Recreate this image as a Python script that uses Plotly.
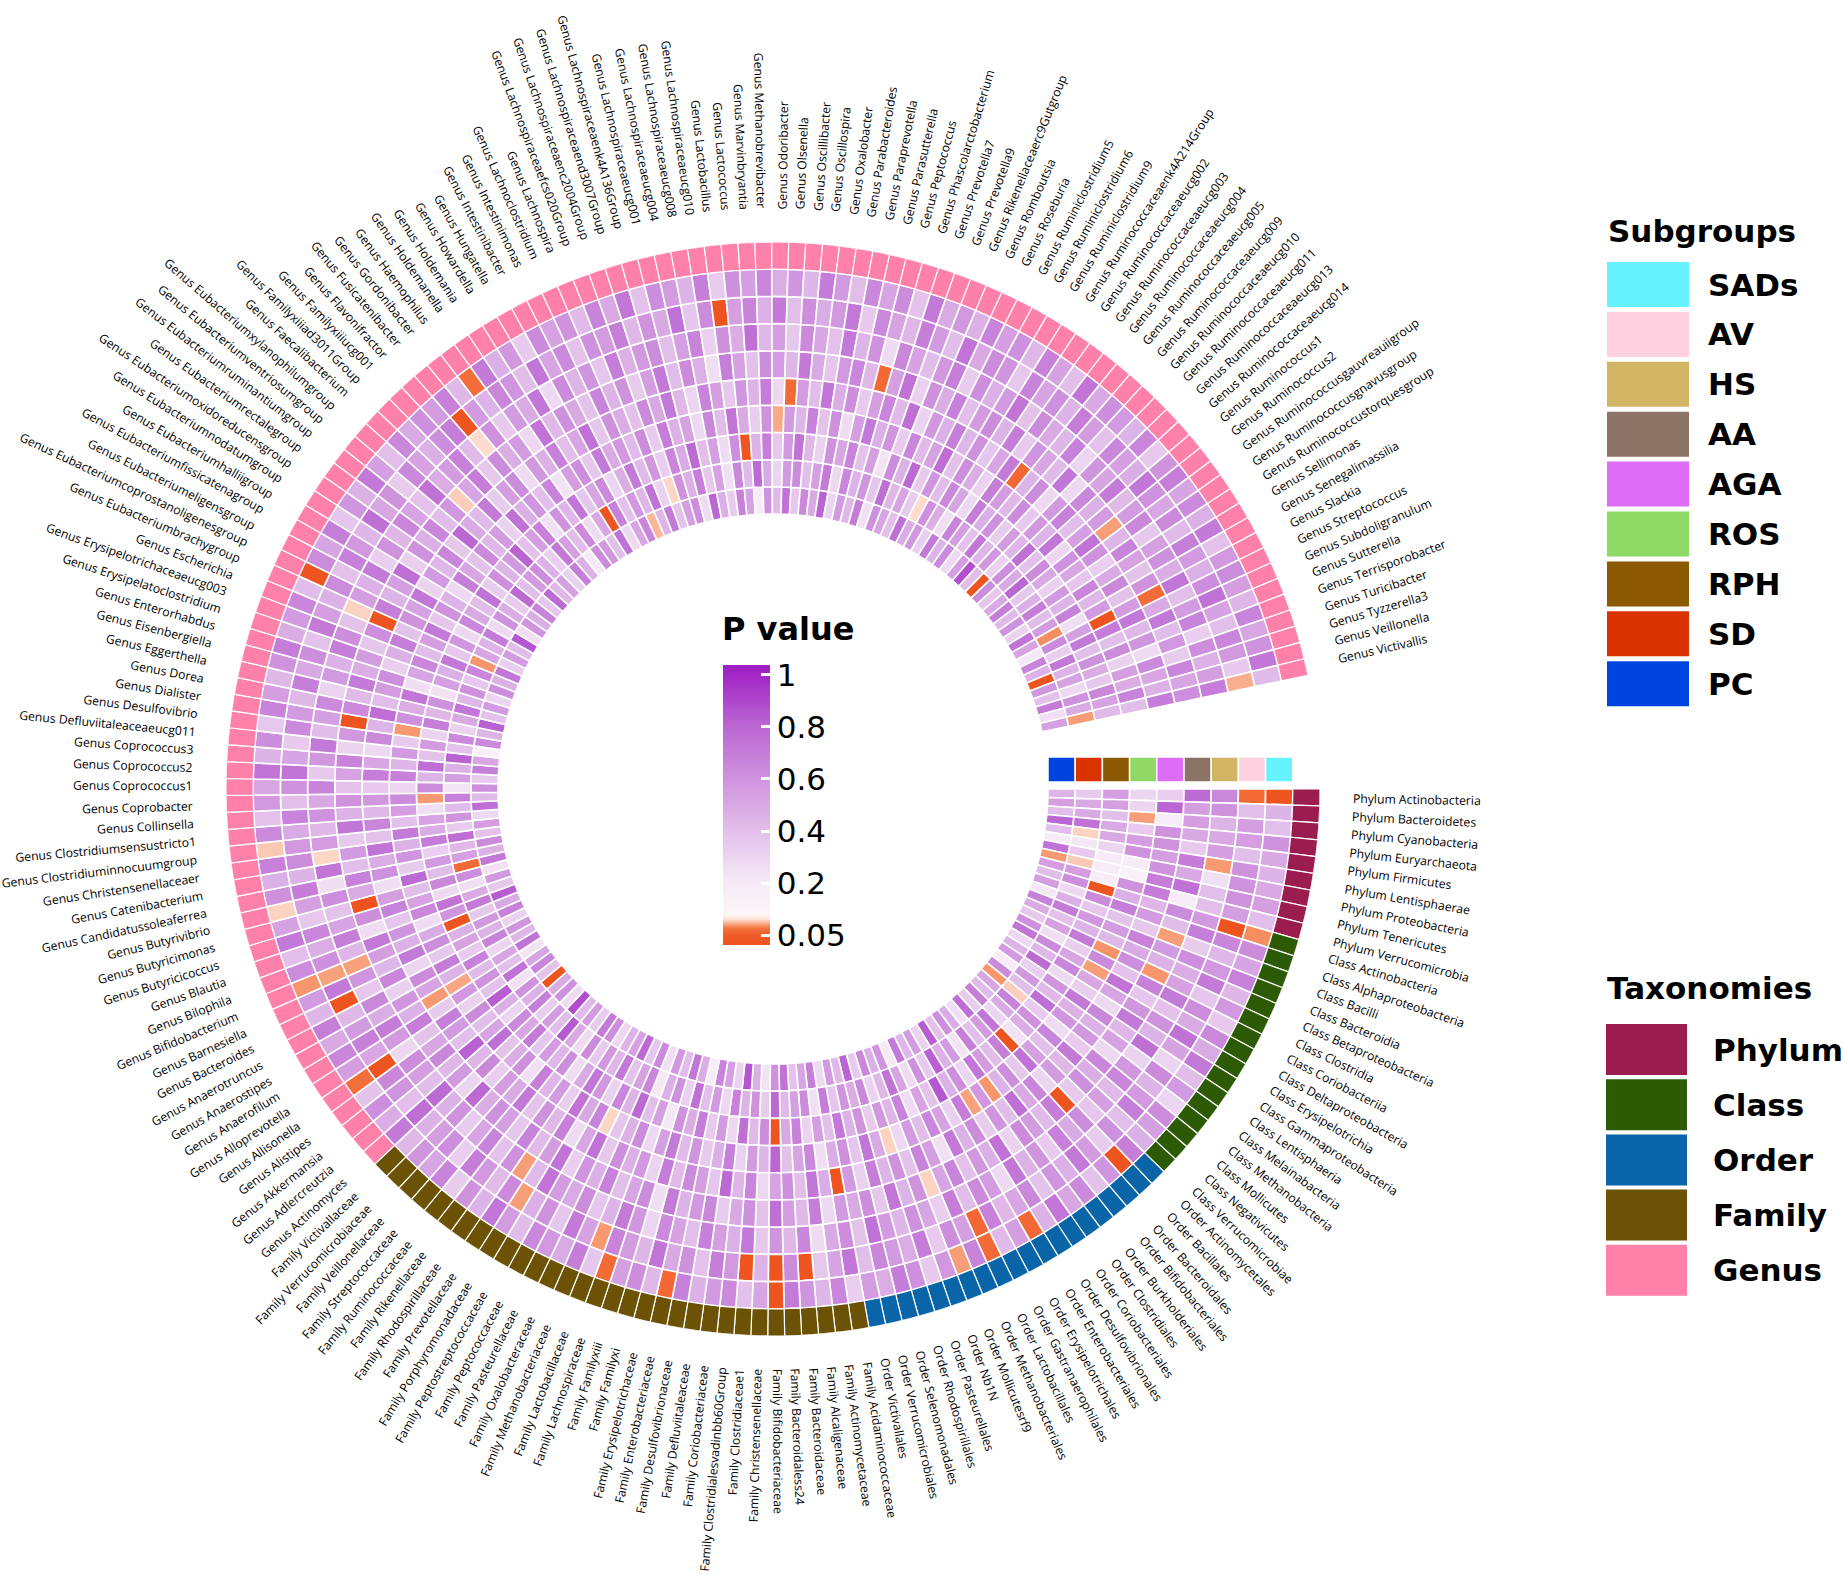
import numpy as np
import plotly.graph_objects as go

W, H = 1843, 1581

# ---- categories (clockwise, starting at 3 o'clock) ----
PHYLUM = ['Actinobacteria', 'Bacteroidetes', 'Cyanobacteria', 'Euryarchaeota', 'Firmicutes',
          'Lentisphaerae', 'Proteobacteria', 'Tenericutes', 'Verrucomicrobia']
CLASS = ['Actinobacteria', 'Alphaproteobacteria', 'Bacilli', 'Bacteroidia', 'Betaproteobacteria',
         'Clostridia', 'Coriobacteriia', 'Deltaproteobacteria', 'Erysipelotrichia',
         'Gammaproteobacteria', 'Lentisphaeria', 'Melainabacteria', 'Methanobacteria',
         'Mollicutes', 'Negativicutes', 'Verrucomicrobiae']
ORDER = ['Actinomycetales', 'Bacillales', 'Bacteroidales', 'Bifidobacteriales', 'Burkholderiales',
         'Clostridiales', 'Coriobacteriales', 'Desulfovibrionales', 'Enterobacteriales',
         'Erysipelotrichales', 'Gastranaerophilales', 'Lactobacillales', 'Methanobacteriales',
         'Mollicutesrf9', 'Nb1N', 'Pasteurellales', 'Rhodospirillales', 'Selenomonadales',
         'Verrucomicrobiales', 'Victivallales']
FAMILY = ['Acidaminococcaceae', 'Actinomycetaceae', 'Alcaligenaceae', 'Bacteroidaceae',
          'Bacteroidaless24', 'Bifidobacteriaceae', 'Christensenellaceae', 'Clostridiaceae1',
          'Clostridialesvadinbb60Group', 'Coriobacteriaceae', 'Defluviitaleaceae',
          'Desulfovibrionaceae', 'Enterobacteriaceae', 'Erysipelotrichaceae', 'Familyxi',
          'Familyxiii', 'Lachnospiraceae', 'Lactobacillaceae', 'Methanobacteriaceae',
          'Oxalobacteraceae', 'Pasteurellaceae', 'Peptococcaceae', 'Peptostreptococcaceae',
          'Porphyromonadaceae', 'Prevotellaceae', 'Rhodospirillaceae', 'Rikenellaceae',
          'Ruminococcaceae', 'Streptococcaceae', 'Veillonellaceae', 'Verrucomicrobiaceae',
          'Victivallaceae']
GENUS = ['Actinomyces', 'Adlercreutzia', 'Akkermansia', 'Alistipes', 'Allisonella',
         'Alloprevotella', 'Anaerofilum', 'Anaerostipes', 'Anaerotruncus', 'Bacteroides',
         'Barnesiella', 'Bifidobacterium', 'Bilophila', 'Blautia', 'Butyricicoccus',
         'Butyricimonas', 'Butyrivibrio', 'Candidatussoleaferrea', 'Catenibacterium',
         'Christensenellaceaer', 'Clostridiuminnocuumgroup', 'Clostridiumsensustricto1',
         'Collinsella', 'Coprobacter', 'Coprococcus1', 'Coprococcus2', 'Coprococcus3',
         'Defluviitaleaceaeucg011', 'Desulfovibrio', 'Dialister', 'Dorea', 'Eggerthella',
         'Eisenbergiella', 'Enterorhabdus', 'Erysipelatoclostridium', 'Erysipelotrichaceaeucg003',
         'Escherichia', 'Eubacteriumbrachygroup', 'Eubacteriumcoprostanoligenesgroup',
         'Eubacteriumeligensgroup', 'Eubacteriumfissicatenagroup', 'Eubacteriumhalliigroup',
         'Eubacteriumnodatumgroup', 'Eubacteriumoxidoreducensgroup', 'Eubacteriumrectalegroup',
         'Eubacteriumruminantiumgroup', 'Eubacteriumventriosumgroup',
         'Eubacteriumxylanophilumgroup', 'Faecalibacterium', 'Familyxiiiad3011Group',
         'Familyxiiiucg001', 'Flavonifractor', 'Fusicatenibacter', 'Gordonibacter',
         'Haemophilus', 'Holdemanella', 'Holdemania', 'Howardella', 'Hungatella',
         'Intestinibacter', 'Intestinimonas', 'Lachnoclostridium', 'Lachnospira',
         'Lachnospiraceaefcs020Group', 'Lachnospiraceaenc2004Group', 'Lachnospiraceaend3007Group',
         'Lachnospiraceaenk4A136Group', 'Lachnospiraceaeucg001', 'Lachnospiraceaeucg004',
         'Lachnospiraceaeucg008', 'Lachnospiraceaeucg010', 'Lactobacillus', 'Lactococcus',
         'Marvinbryantia', 'Methanobrevibacter', 'Odoribacter', 'Olsenella', 'Oscillibacter',
         'Oscillospira', 'Oxalobacter', 'Parabacteroides', 'Paraprevotella', 'Parasutterella',
         'Peptococcus', 'Phascolarctobacterium', 'Prevotella7', 'Prevotella9',
         'Rikenellaceaerc9Gutgroup', 'Romboutsia', 'Roseburia', 'Ruminiclostridium5',
         'Ruminiclostridium6', 'Ruminiclostridium9', 'Ruminococcaceaenk4A214Group',
         'Ruminococcaceaeucg002', 'Ruminococcaceaeucg003', 'Ruminococcaceaeucg004',
         'Ruminococcaceaeucg005', 'Ruminococcaceaeucg009', 'Ruminococcaceaeucg010',
         'Ruminococcaceaeucg011', 'Ruminococcaceaeucg013', 'Ruminococcaceaeucg014',
         'Ruminococcus1', 'Ruminococcus2', 'Ruminococcusgauvreauiigroup',
         'Ruminococcusgnavusgroup', 'Ruminococcustorquesgroup', 'Sellimonas', 'Senegalimassilia',
         'Slackia', 'Streptococcus', 'Subdoligranulum', 'Sutterella', 'Terrisporobacter',
         'Turicibacter', 'Tyzzerella3', 'Veillonella', 'Victivallis']

# tracks from inner to outer
SUBGROUPS = ['PC', 'SD', 'RPH', 'ROS', 'AGA', 'AA', 'HS', 'AV', 'SADs']
SUBGROUP_COLORS = ['#0044e0', '#d93300', '#8b5a00', '#8fd966', '#dd6cf7',
                   '#8b7366', '#d1b565', '#ffd1e0', '#66f2ff']
TAXA = ['Phylum', 'Class', 'Order', 'Family', 'Genus']
TAXA_COLORS = ['#9b1d4f', '#2d5a05', '#0a64a8', '#6b5205', '#ff80a8']

# ---- P values (one per taxon, same order as the labels) ----
PC = [
    0.45, 0.55, 0.40, 0.80, 0.40, 0.20, 0.75, 0.079, 0.55, 0.41, 0.55, 0.22, 0.68, 0.49,
    0.36, 0.61, 0.74, 0.29, 0.45, 0.57, 0.18, 0.63, 0.078, 0.51, 0.42, 0.69, 0.34, 0.77,
    0.25, 0.48, 0.62, 0.39, 0.83, 0.31, 0.56, 0.44, 0.72, 0.21, 0.59, 0.47, 0.66, 0.35,
    0.81, 0.43, 0.57, 0.28, 0.69, 0.52, 0.38, 0.75, 0.61, 0.24, 0.47, 0.86, 0.32, 0.54,
    0.67, 0.19, 0.48, 0.73, 0.41, 0.58, 0.26, 0.64, 0.37, 0.79, 0.53, 0.45, 0.29, 0.62,
    0.71, 0.34, 0.56, 0.42, 0.88, 0.27, 0.61, 0.49, 0.021, 0.38, 0.66, 0.52, 0.23, 0.74,
    0.44, 0.59, 0.31, 0.68, 0.50, 0.83, 0.36, 0.57, 0.24, 0.72, 0.46, 0.63, 0.39, 0.55,
    0.28, 0.77, 0.42, 0.61, 0.35, 0.69, 0.51, 0.17, 0.64, 0.45, 0.82, 0.38, 0.57, 0.30,
    0.62, 0.47, 0.73, 0.33, 0.56, 0.41, 0.85, 0.26, 0.59, 0.48, 0.67, 0.37, 0.78, 0.43,
    0.54, 0.32, 0.69, 0.46, 0.21, 0.63, 0.58, 0.40, 0.75, 0.29, 0.52, 0.66, 0.086, 0.44,
    0.71, 0.38, 0.55, 0.62, 0.27, 0.80, 0.47, 0.34, 0.68, 0.53, 0.19, 0.60, 0.42, 0.74,
    0.36, 0.65, 0.49, 0.81, 0.30, 0.57, 0.43, 0.70, 0.25, 0.61, 0.52, 0.39, 0.76, 0.48,
    0.58, 0.33, 0.72, 0.45, 0.64, 0.28, 0.55, 0.87, 0.41, 0.018, 0.63, 0.37, 0.50, 0.69,
    0.42, 0.60, 0.31, 0.74, 0.53, 0.22, 0.67, 0.46, 0.012, 0.58, 0.39, 0.71, 0.26, 0.54,
]
SD = [
    0.35, 0.50, 0.50, 0.75, 0.092, 0.22, 0.35, 0.090, 0.55, 0.62, 0.28, 0.47, 0.71, 0.39,
    0.53, 0.26, 0.64, 0.44, 0.78, 0.33, 0.58, 0.41, 0.091, 0.67, 0.49, 0.30, 0.73, 0.56,
    0.40, 0.69, 0.23, 0.57, 0.46, 0.82, 0.35, 0.61, 0.27, 0.52, 0.74, 0.43, 0.31, 0.65,
    0.48, 0.59, 0.37, 0.70, 0.25, 0.63, 0.54, 0.42, 0.79, 0.34, 0.60, 0.45, 0.68, 0.29,
    0.57, 0.40, 0.76, 0.32, 0.61, 0.47, 0.21, 0.66, 0.53, 0.38, 0.72, 0.44, 0.58, 0.35,
    0.63, 0.27, 0.50, 0.84, 0.41, 0.56, 0.33, 0.69, 0.46, 0.60, 0.24, 0.75, 0.39, 0.52,
    0.30, 0.67, 0.45, 0.58, 0.36, 0.71, 0.49, 0.26, 0.62, 0.062, 0.54, 0.43, 0.77, 0.34,
    0.59, 0.42, 0.68, 0.23, 0.55, 0.47, 0.81, 0.38, 0.64, 0.31, 0.50, 0.73, 0.44, 0.60,
    0.37, 0.66, 0.078, 0.52, 0.45, 0.70, 0.28, 0.61, 0.48, 0.35, 0.79, 0.40, 0.57, 0.63,
    0.46, 0.33, 0.72, 0.55, 0.41, 0.64, 0.27, 0.51, 0.015, 0.68, 0.39, 0.58, 0.44, 0.74,
    0.32, 0.093, 0.60, 0.47, 0.69, 0.36, 0.53, 0.25, 0.65, 0.42, 0.78, 0.49, 0.30, 0.57,
    0.63, 0.40, 0.54, 0.71, 0.29, 0.66, 0.45, 0.59, 0.37, 0.76, 0.43, 0.52, 0.34, 0.094,
    0.61, 0.48, 0.26, 0.67, 0.55, 0.39, 0.73, 0.44, 0.58, 0.31, 0.62, 0.50, 0.80, 0.36,
    0.47, 0.69, 0.41, 0.56, 0.076, 0.64, 0.33, 0.72, 0.45, 0.53, 0.28, 0.60, 0.49, 0.080,
]
RPH = [
    0.55, 0.55, 0.40, 0.50, 0.50, 0.30, 0.20, 0.20, 0.20, 0.011, 0.64, 0.37, 0.58, 0.45,
    0.71, 0.33, 0.52, 0.66, 0.28, 0.59, 0.43, 0.77, 0.35, 0.61, 0.48, 0.24, 0.014, 0.69,
    0.41, 0.56, 0.73, 0.30, 0.62, 0.47, 0.85, 0.38, 0.53, 0.27, 0.67, 0.44, 0.58, 0.34,
    0.60, 0.46, 0.72, 0.39, 0.55, 0.31, 0.68, 0.50, 0.009, 0.63, 0.42, 0.76, 0.29, 0.57,
    0.35, 0.70, 0.48, 0.61, 0.22, 0.54, 0.40, 0.79, 0.45, 0.66, 0.32, 0.58, 0.73, 0.49,
    0.27, 0.62, 0.44, 0.56, 0.37, 0.71, 0.51, 0.64, 0.30, 0.47, 0.83, 0.39, 0.60, 0.42,
    0.68, 0.35, 0.53, 0.46, 0.017, 0.59, 0.74, 0.28, 0.65, 0.41, 0.57, 0.33, 0.70, 0.48,
    0.52, 0.26, 0.079, 0.63, 0.45, 0.77, 0.38, 0.56, 0.31, 0.69, 0.43, 0.61, 0.24, 0.54,
    0.47, 0.72, 0.36, 0.58, 0.29, 0.66, 0.50, 0.41, 0.75, 0.34, 0.62, 0.45, 0.57, 0.81,
    0.39, 0.55, 0.68, 0.25, 0.60, 0.44, 0.73, 0.37, 0.52, 0.64, 0.30, 0.48, 0.71, 0.42,
    0.58, 0.33, 0.66, 0.49, 0.78, 0.40, 0.54, 0.27, 0.62, 0.013, 0.45, 0.69, 0.36, 0.57,
    0.74, 0.43, 0.31, 0.60, 0.51, 0.67, 0.38, 0.55, 0.23, 0.63, 0.46, 0.79, 0.35, 0.59,
    0.41, 0.65, 0.52, 0.28, 0.70, 0.47, 0.61, 0.34, 0.56, 0.44, 0.76, 0.39, 0.63, 0.50,
    0.32, 0.57, 0.45, 0.68, 0.26, 0.54, 0.72, 0.40, 0.61, 0.48, 0.36, 0.65, 0.53, 0.42,
]
ROS = [
    0.30, 0.30, 0.080, 0.35, 0.55, 0.60, 0.20, 0.15, 0.60, 0.47, 0.69, 0.38, 0.56, 0.43,
    0.077, 0.64, 0.080, 0.51, 0.33, 0.72, 0.46, 0.59, 0.27, 0.67, 0.40, 0.54, 0.75, 0.36,
    0.62, 0.45, 0.078, 0.58, 0.081, 0.70, 0.32, 0.53, 0.66, 0.41, 0.57, 0.29, 0.092, 0.49,
    0.73, 0.37, 0.61, 0.48, 0.26, 0.65, 0.52, 0.39, 0.80, 0.44, 0.56, 0.31, 0.68, 0.47,
    0.35, 0.59, 0.42, 0.71, 0.54, 0.28, 0.63, 0.46, 0.37, 0.093, 0.67, 0.50, 0.74, 0.33,
    0.57, 0.44, 0.69, 0.25, 0.61, 0.48, 0.38, 0.76, 0.52, 0.40, 0.64, 0.31, 0.58, 0.082,
    0.45, 0.70, 0.36, 0.62, 0.49, 0.27, 0.66, 0.53, 0.41, 0.78, 0.34, 0.59, 0.46, 0.71,
    0.39, 0.55, 0.63, 0.30, 0.68, 0.44, 0.57, 0.35, 0.079, 0.61, 0.48, 0.73, 0.26, 0.52,
    0.66, 0.41, 0.54, 0.72, 0.37, 0.60, 0.45, 0.29, 0.69, 0.51, 0.38, 0.64, 0.43, 0.56,
    0.32, 0.75, 0.47, 0.59, 0.40, 0.67, 0.24, 0.55, 0.62, 0.36, 0.71, 0.49, 0.58, 0.42,
    0.63, 0.35, 0.70, 0.46, 0.53, 0.28, 0.65, 0.41, 0.74, 0.50, 0.33, 0.60, 0.083, 0.57,
    0.44, 0.68, 0.38, 0.61, 0.27, 0.55, 0.72, 0.47, 0.59, 0.34, 0.66, 0.42, 0.53, 0.77,
    0.39, 0.62, 0.48, 0.31, 0.69, 0.56, 0.43, 0.64, 0.36, 0.58, 0.45, 0.73, 0.29, 0.60,
    0.51, 0.37, 0.66, 0.44, 0.57, 0.012, 0.70, 0.40, 0.63, 0.32, 0.55, 0.48, 0.67, 0.41,
]
AGA = [
    0.33, 0.80, 0.20, 0.60, 0.60, 0.55, 0.60, 0.70, 0.70, 0.44, 0.57, 0.36, 0.68, 0.49,
    0.62, 0.39, 0.74, 0.52, 0.28, 0.65, 0.47, 0.58, 0.35, 0.71, 0.43, 0.56, 0.30, 0.66,
    0.50, 0.77, 0.41, 0.59, 0.34, 0.63, 0.46, 0.72, 0.25, 0.54, 0.67, 0.38, 0.60, 0.45,
    0.69, 0.32, 0.57, 0.016, 0.48, 0.73, 0.40, 0.61, 0.53, 0.29, 0.66, 0.44, 0.79, 0.37,
    0.55, 0.64, 0.42, 0.70, 0.31, 0.58, 0.47, 0.62, 0.36, 0.75, 0.51, 0.27, 0.68, 0.43,
    0.60, 0.38, 0.72, 0.49, 0.56, 0.33, 0.65, 0.44, 0.82, 0.40, 0.57, 0.69, 0.35, 0.079,
    0.52, 0.63, 0.30, 0.71, 0.46, 0.59, 0.37, 0.67, 0.54, 0.26, 0.61, 0.48, 0.74, 0.39,
    0.66, 0.43, 0.58, 0.35, 0.70, 0.51, 0.28, 0.64, 0.45, 0.77, 0.41, 0.56, 0.62, 0.33,
    0.47, 0.69, 0.38, 0.60, 0.53, 0.73, 0.31, 0.57, 0.44, 0.66, 0.36, 0.80, 0.49, 0.42,
    0.71, 0.34, 0.55, 0.63, 0.27, 0.58, 0.46, 0.68, 0.40, 0.52, 0.75, 0.37, 0.61, 0.48,
    0.39, 0.64, 0.50, 0.72, 0.43, 0.30, 0.67, 0.55, 0.36, 0.59, 0.45, 0.70, 0.28, 0.063,
    0.56, 0.41, 0.73, 0.48, 0.62, 0.35, 0.54, 0.66, 0.42, 0.76, 0.31, 0.58, 0.47, 0.69,
    0.44, 0.60, 0.37, 0.52, 0.71, 0.060, 0.45, 0.63, 0.29, 0.57, 0.68, 0.40, 0.54, 0.74,
    0.61, 0.33, 0.49, 0.65, 0.38, 0.56, 0.72, 0.43, 0.59, 0.27, 0.64, 0.51, 0.46, 0.70,
]
AA = [
    0.78, 0.55, 0.55, 0.50, 0.35, 0.70, 0.50, 0.75, 0.20, 0.63, 0.41, 0.080, 0.57, 0.46,
    0.078, 0.68, 0.37, 0.59, 0.72, 0.44, 0.53, 0.29, 0.66, 0.48, 0.61, 0.35, 0.010, 0.70,
    0.42, 0.56, 0.64, 0.31, 0.75, 0.47, 0.58, 0.39, 0.67, 0.52, 0.092, 0.60, 0.45, 0.73,
    0.36, 0.62, 0.49, 0.57, 0.28, 0.69, 0.43, 0.55, 0.76, 0.38, 0.61, 0.50, 0.34, 0.65,
    0.58, 0.45, 0.71, 0.26, 0.63, 0.52, 0.40, 0.68, 0.47, 0.59, 0.33, 0.74, 0.56, 0.42,
    0.67, 0.37, 0.54, 0.61, 0.48, 0.79, 0.30, 0.57, 0.43, 0.65, 0.51, 0.38, 0.70, 0.46,
    0.59, 0.32, 0.66, 0.44, 0.55, 0.72, 0.27, 0.62, 0.014, 0.49, 0.68, 0.40, 0.57, 0.35,
    0.73, 0.46, 0.60, 0.39, 0.53, 0.67, 0.31, 0.58, 0.011, 0.64, 0.42, 0.71, 0.48, 0.56,
    0.37, 0.62, 0.019, 0.69, 0.45, 0.54, 0.77, 0.33, 0.60, 0.47, 0.66, 0.41, 0.58, 0.091,
    0.52, 0.70, 0.36, 0.63, 0.48, 0.57, 0.29, 0.74, 0.43, 0.61, 0.50, 0.38, 0.67, 0.45,
    0.60, 0.34, 0.55, 0.72, 0.41, 0.64, 0.47, 0.26, 0.69, 0.53, 0.39, 0.62, 0.56, 0.44,
    0.71, 0.49, 0.37, 0.58, 0.66, 0.43, 0.061, 0.54, 0.75, 0.32, 0.61, 0.48, 0.68, 0.40,
    0.56, 0.63, 0.45, 0.70, 0.35, 0.59, 0.51, 0.42, 0.73, 0.28, 0.65, 0.47, 0.57, 0.080,
    0.44, 0.67, 0.53, 0.38, 0.60, 0.064, 0.49, 0.72, 0.41, 0.58, 0.34, 0.66, 0.52, 0.62,
]
HS = [
    0.65, 0.60, 0.45, 0.50, 0.55, 0.079, 0.25, 0.40, 0.40, 0.57, 0.69, 0.34, 0.62, 0.48,
    0.53, 0.71, 0.39, 0.60, 0.45, 0.76, 0.31, 0.58, 0.66, 0.42, 0.54, 0.37, 0.63, 0.49,
    0.68, 0.35, 0.59, 0.46, 0.73, 0.28, 0.56, 0.64, 0.41, 0.70, 0.33, 0.52, 0.61, 0.44,
    0.57, 0.75, 0.38, 0.62, 0.50, 0.27, 0.66, 0.43, 0.59, 0.36, 0.72, 0.47, 0.55, 0.68,
    0.40, 0.53, 0.64, 0.30, 0.58, 0.71, 0.45, 0.37, 0.63, 0.49, 0.56, 0.74, 0.42, 0.080,
    0.61, 0.39, 0.67, 0.52, 0.34, 0.60, 0.46, 0.78, 0.41, 0.55, 0.63, 0.29, 0.57, 0.70,
    0.48, 0.65, 0.36, 0.59, 0.081, 0.44, 0.69, 0.52, 0.38, 0.62, 0.26, 0.73, 0.093, 0.56,
    0.43, 0.60, 0.50, 0.67, 0.35, 0.58, 0.72, 0.41, 0.54, 0.64, 0.31, 0.57, 0.46, 0.69,
    0.62, 0.38, 0.092, 0.55, 0.47, 0.71, 0.33, 0.60, 0.44, 0.66, 0.52, 0.39, 0.75, 0.48,
    0.56, 0.68, 0.42, 0.094, 0.61, 0.35, 0.57, 0.49, 0.73, 0.28, 0.64, 0.45, 0.59, 0.37,
    0.70, 0.46, 0.58, 0.63, 0.40, 0.54, 0.67, 0.32, 0.61, 0.48, 0.76, 0.43, 0.55, 0.36,
    0.64, 0.51, 0.39, 0.72, 0.45, 0.60, 0.27, 0.66, 0.53, 0.41, 0.58, 0.69, 0.34, 0.62,
    0.47, 0.57, 0.74, 0.38, 0.63, 0.50, 0.44, 0.68, 0.30, 0.59, 0.52, 0.71, 0.42, 0.56,
    0.65, 0.36, 0.54, 0.61, 0.48, 0.73, 0.40, 0.57, 0.67, 0.33, 0.62, 0.46, 0.55, 0.70,
]
AV = [
    0.062, 0.40, 0.55, 0.55, 0.40, 0.60, 0.60, 0.60, 0.55, 0.012, 0.66, 0.43, 0.58, 0.71,
    0.37, 0.62, 0.49, 0.75, 0.53, 0.30, 0.64, 0.45, 0.57, 0.69, 0.40, 0.61, 0.34, 0.56,
    0.72, 0.47, 0.59, 0.38, 0.65, 0.51, 0.43, 0.68, 0.060, 0.54, 0.62, 0.35, 0.70, 0.48,
    0.57, 0.66, 0.41, 0.73, 0.52, 0.36, 0.010, 0.63, 0.015, 0.45, 0.020, 0.58, 0.69, 0.39,
    0.61, 0.50, 0.74, 0.44, 0.56, 0.67, 0.079, 0.53, 0.71, 0.37, 0.60, 0.47, 0.080, 0.64,
    0.42, 0.58, 0.70, 0.33, 0.62, 0.55, 0.46, 0.77, 0.40, 0.59, 0.65, 0.013, 0.51, 0.68,
    0.57, 0.43, 0.016, 0.72, 0.081, 0.61, 0.48, 0.66, 0.36, 0.54, 0.70, 0.45, 0.63, 0.58,
    0.49, 0.67, 0.40, 0.60, 0.74, 0.52, 0.35, 0.64, 0.57, 0.43, 0.69, 0.50, 0.62, 0.38,
    0.71, 0.55, 0.46, 0.63, 0.39, 0.68, 0.58, 0.44, 0.76, 0.51, 0.60, 0.34, 0.65, 0.53,
    0.47, 0.62, 0.70, 0.011, 0.57, 0.45, 0.66, 0.59, 0.41, 0.73, 0.52, 0.64, 0.38, 0.61,
    0.56, 0.69, 0.43, 0.60, 0.50, 0.75, 0.37, 0.63, 0.014, 0.54, 0.67, 0.46, 0.71, 0.40,
    0.62, 0.48, 0.58, 0.72, 0.35, 0.65, 0.53, 0.44, 0.69, 0.57, 0.41, 0.74, 0.50, 0.63,
    0.59, 0.36, 0.67, 0.52, 0.61, 0.45, 0.70, 0.56, 0.39, 0.66, 0.54, 0.48, 0.73, 0.60,
    0.51, 0.64, 0.42, 0.69, 0.57, 0.47, 0.62, 0.75, 0.53, 0.40, 0.66, 0.58, 0.35, 0.084,
]
SADS = [
    0.014, 0.45, 0.40, 0.60, 0.50, 0.45, 0.50, 0.55, 0.40, 0.076, 0.63, 0.52, 0.68, 0.44,
    0.58, 0.36, 0.65, 0.49, 0.72, 0.41, 0.57, 0.30, 0.63, 0.54, 0.47, 0.69, 0.012, 0.59,
    0.38, 0.64, 0.51, 0.73, 0.46, 0.061, 0.55, 0.42, 0.062, 0.67, 0.080, 0.58, 0.35, 0.61,
    0.70, 0.48, 0.56, 0.33, 0.66, 0.44, 0.59, 0.71, 0.010, 0.52, 0.39, 0.64, 0.57, 0.46,
    0.68, 0.060, 0.43, 0.62, 0.54, 0.063, 0.37, 0.70, 0.49, 0.58, 0.65, 0.41, 0.56, 0.73,
    0.45, 0.60, 0.34, 0.67, 0.52, 0.59, 0.43, 0.71, 0.48, 0.62, 0.38, 0.065, 0.55, 0.66,
    0.50, 0.69, 0.44, 0.57, 0.078, 0.63, 0.40, 0.72, 0.53, 0.092, 0.61, 0.47, 0.68, 0.090,
    0.64, 0.39, 0.58, 0.51, 0.74, 0.45, 0.62, 0.36, 0.67, 0.55, 0.43, 0.60, 0.70, 0.48,
    0.57, 0.66, 0.41, 0.015, 0.63, 0.52, 0.69, 0.37, 0.59, 0.46, 0.72, 0.54, 0.40, 0.65,
    0.49, 0.61, 0.56, 0.68, 0.43, 0.064, 0.71, 0.47, 0.58, 0.35, 0.64, 0.53, 0.60, 0.42,
    0.67, 0.50, 0.73, 0.39, 0.62, 0.56, 0.45, 0.69, 0.34, 0.61, 0.54, 0.66, 0.48, 0.59,
    0.44, 0.70, 0.57, 0.41, 0.65, 0.52, 0.63, 0.38, 0.72, 0.49, 0.58, 0.46, 0.67, 0.55,
    0.61, 0.43, 0.68, 0.53, 0.40, 0.74, 0.50, 0.62, 0.57, 0.45, 0.66, 0.36, 0.60, 0.69,
    0.52, 0.64, 0.47, 0.71, 0.39, 0.58, 0.63, 0.55, 0.44, 0.67, 0.51, 0.60, 0.73, 0.42,
]
P_TRACKS = [PC, SD, RPH, ROS, AGA, AA, HS, AV, SADS]

# colour bar: ticks are evenly spaced, 0.05 sits one step below 0.2
CB_TICKS = [0.05, 0.2, 0.4, 0.6, 0.8, 1]
CB_POS = [0, 0.2, 0.4, 0.6, 0.8, 1]
CB_MIN, CB_MAX = -0.038, 1.038
CB_STOPS = [(-0.038, '#ee5420'), (0.0, '#f05a28'), (0.026, '#f3743f'), (0.045, '#f9ad8c'),
            (0.06, '#fde0d3'), (0.08, '#fdf6f8'), (0.2, '#f6ebf7'), (0.4, '#e2bfea'),
            (0.6, '#cf93de'), (0.8, '#bb67d3'), (1.0, '#a326c5'), (1.038, '#9f1fc3')]

# ---- geometry in page pixels ----
CX, CY = 773, 789
R_IN, TRACK = 275, 27.2
R_OUT = R_IN + 10 * TRACK
GAP = 12.0
R_LAB = 578
TXT_H = 19

levels, labels = [], []
for lvl, names in zip(TAXA, [PHYLUM, CLASS, ORDER, FAMILY, GENUS]):
    levels += [lvl] * len(names)
    labels += [f'{lvl} {nm}' for nm in names]
n = len(labels)
assert all(len(t) == n for t in P_TRACKS), [len(t) for t in P_TRACKS]
step = (360 - GAP) / n
theta = (np.arange(n) + 0.5) * step


def to_scale(p):
    return np.interp(p, [0, 0.05] + CB_POS[1:], [-0.0667] + CB_POS)


colorscale = [[(t - CB_MIN) / (CB_MAX - CB_MIN), c] for t, c in CB_STOPS]

fig = go.Figure()
for k, (name, vals) in enumerate(zip(SUBGROUPS, P_TRACKS)):
    fig.add_trace(go.Barpolar(
        theta=theta, r=[TRACK] * n, base=R_IN + k * TRACK, width=step,
        marker=dict(color=to_scale(vals), coloraxis='coloraxis',
                    line=dict(color='white', width=1.6)),
        customdata=np.array(vals), text=labels, name=name,
        hovertemplate='%{text}<br>' + name + ': P=%{customdata}<extra></extra>',
        showlegend=False))

fig.add_trace(go.Barpolar(
    theta=theta, r=[TRACK] * n, base=R_IN + 9 * TRACK, width=step,
    marker=dict(color=[TAXA_COLORS[TAXA.index(l)] for l in levels],
                line=dict(color='white', width=1.2)),
    text=labels, hovertemplate='%{text}<extra></extra>', showlegend=False))

# radial labels
annotations = []
for lab, th in zip(labels, theta):
    a = np.radians(th)
    ux, uy = np.cos(a), -np.sin(a)
    sx = 1 if ux >= 0 else -1
    sy = 1 if uy >= 0 else -1
    mx = R_LAB * ux - TXT_H / 2 * sx * abs(uy)
    my = R_LAB * uy - TXT_H / 2 * sy * abs(ux)
    ang = th if ux >= 0 else th - 180
    ang = ((ang + 180) % 360) - 180
    annotations.append(dict(
        x=(CX + mx) / W, y=1 - (CY - my) / H, xref='paper', yref='paper',
        text=lab, showarrow=False, textangle=ang,
        xanchor='left' if sx > 0 else 'right', yanchor='bottom' if sy > 0 else 'top',
        font=dict(family='Open Sans', size=12.2, color='black')))

shapes = []
# track key in the gap
for j, col in enumerate(SUBGROUP_COLORS):
    x0 = CX + R_IN + j * TRACK
    shapes.append(dict(type='rect', xref='paper', yref='paper',
                       x0=x0 / W, x1=(x0 + TRACK) / W, y0=1 - 782 / H, y1=1 - 757 / H,
                       fillcolor=col, line=dict(color='white', width=1.5)))

legend_font = dict(family='DejaVu Sans', size=31, color='black')
annotations.append(dict(x=1606 / W, y=1 - 231 / H, xref='paper', yref='paper', text='<b>Subgroups</b>',
                        showarrow=False, xanchor='left', yanchor='middle', font=legend_font))
for j, (name, col) in enumerate(zip(SUBGROUPS[::-1], SUBGROUP_COLORS[::-1])):
    top = 262 + 49.9 * j
    shapes.append(dict(type='rect', xref='paper', yref='paper', x0=1607 / W, x1=1689 / W,
                       y0=1 - (top + 45) / H, y1=1 - top / H, fillcolor=col, line=dict(width=0)))
    annotations.append(dict(x=1706 / W, y=1 - (top + 22.5) / H, xref='paper', yref='paper',
                            text=f'<b>{name}</b>', showarrow=False, xanchor='left',
                            yanchor='middle', font=legend_font))

annotations.append(dict(x=1605 / W, y=1 - 988 / H, xref='paper', yref='paper', text='<b>Taxonomies</b>',
                        showarrow=False, xanchor='left', yanchor='middle', font=legend_font))
for j, (name, col) in enumerate(zip(TAXA, TAXA_COLORS)):
    top = 1024 + 55.2 * j
    shapes.append(dict(type='rect', xref='paper', yref='paper', x0=1606 / W, x1=1687 / W,
                       y0=1 - (top + 51) / H, y1=1 - top / H, fillcolor=col, line=dict(width=0)))
    annotations.append(dict(x=1711 / W, y=1 - (top + 25.5) / H, xref='paper', yref='paper',
                            text=f'<b>{name}</b>', showarrow=False, xanchor='left',
                            yanchor='middle', font=legend_font))

annotations.append(dict(x=720 / W, y=1 - 650 / H, xref='paper', yref='paper', text='<b>P value</b>',
                        showarrow=False, xanchor='left', yanchor='bottom',
                        font=dict(family='DejaVu Sans', size=32, color='black')))

fig.update_layout(
    width=W, height=H, margin=dict(l=0, r=0, t=0, b=0),
    paper_bgcolor='white', plot_bgcolor='white',
    polar=dict(
        domain=dict(x=[(CX - R_OUT) / W, (CX + R_OUT) / W],
                    y=[1 - (CY + R_OUT) / H, 1 - (CY - R_OUT) / H]),
        bgcolor='white',
        radialaxis=dict(range=[0, R_OUT], visible=False),
        angularaxis=dict(direction='clockwise', rotation=0, visible=False)),
    coloraxis=dict(
        colorscale=colorscale, cmin=CB_MIN, cmax=CB_MAX,
        colorbar=dict(x=723 / W, xanchor='left', y=1 - 805 / H, yanchor='middle',
                      len=280, lenmode='pixels', thickness=47, thicknessmode='pixels',
                      outlinewidth=0, xpad=0, ypad=0,
                      tickvals=CB_POS, ticktext=[str(v) for v in CB_TICKS],
                      ticks='inside', ticklen=9, tickwidth=2.5, tickcolor='white',
                      tickfont=dict(family='DejaVu Sans', size=31, color='black'))),
    annotations=annotations, shapes=shapes,
)

fig.write_html("out.html", config={'displayModeBar': False},
               post_script="document.body.style.margin='0';")
